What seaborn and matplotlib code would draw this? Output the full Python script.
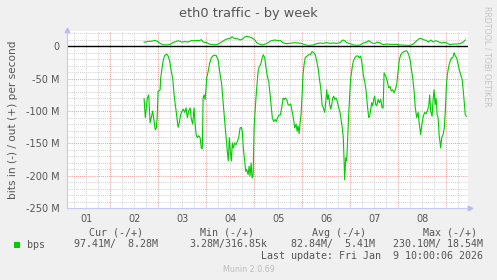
import numpy as np
import pandas as pd
import matplotlib
matplotlib.use("Agg")
import matplotlib.pyplot as plt
import seaborn as sns
from matplotlib.ticker import MultipleLocator, FuncFormatter
from matplotlib.patches import Rectangle

# ---- data (hours since 2026-01-01 00:00, values in Mbit/s) ----
in_hours = [40.9, 41.5, 42.5, 43.2, 43.9, 44.5, 45.2, 45.9, 46.5, 47.0, 47.4, 47.9, 48.4, 48.9,
            49.2, 49.9, 50.5, 51.2, 52.2, 52.9, 53.7, 54.5, 55.2, 55.9, 56.5, 57.2, 57.9, 58.5,
            59.2, 59.9, 60.5, 61.2, 61.9, 62.5, 63.2, 63.9, 64.5, 65.2, 65.9, 66.4, 66.9, 67.5,
            68.2, 68.9, 69.5, 70.0, 70.4, 70.9, 71.4, 71.9, 72.2, 72.9, 73.7, 74.5, 75.5, 76.9,
            77.9, 78.7,
            79.7, 80.5, 81.2, 81.9, 82.5, 83.0, 83.5, 84.0, 84.5, 85.0, 85.5, 86.2, 86.9, 87.5,
            88.2, 88.9, 89.5, 90.0, 90.5, 91.2, 91.7, 92.2, 92.9, 93.4, 93.9, 94.4, 94.9, 95.4,
            95.9, 96.5, 97.2, 97.9, 98.5, 99.2, 99.9, 100.5, 101.2, 101.9, 102.5, 103.2, 103.9,
            104.5, 105.0, 105.7, 106.4, 107.0, 107.7, 108.4, 109.0, 109.7, 110.4, 111.0, 111.5,
            112.2, 112.9, 113.5, 114.2, 114.9, 115.5, 116.2, 116.9, 117.4, 117.9, 118.4, 118.9,
            119.4, 119.9, 120.35,
            120.9, 121.5, 122.4, 123.2, 124.0, 124.9, 125.7, 126.5, 127.2, 127.9, 128.5, 129.2,
            129.9, 130.5, 131.2, 131.7, 132.2, 132.7, 133.2, 133.7, 134.2, 134.7, 135.2, 135.7,
            136.2, 136.9, 137.5, 138.2, 138.9, 139.5, 140.0, 140.5, 140.9, 141.2, 141.7, 142.2,
            142.7, 143.2, 143.7, 144.2, 144.9, 145.5, 146.2, 147.0, 147.9, 148.5, 149.2, 149.9,
            150.5, 151.2, 151.9, 152.5, 153.2, 153.7, 154.2, 154.7, 155.2, 155.7, 156.2, 156.7,
            157.2, 157.9, 158.5, 159.2, 159.9, 160.4,
            160.9, 161.7, 162.5, 163.2, 163.9, 164.5, 165.2, 165.9, 166.5, 167.2, 167.9, 168.5,
            169.2, 170.0, 170.9, 171.9, 172.5, 173.2, 173.9, 174.5, 175.2, 175.9, 176.5, 177.2,
            177.9, 178.5, 179.2, 179.9, 180.5, 181.2, 181.9, 182.5, 183.2, 183.7, 184.2, 184.9,
            185.4, 185.9, 186.4, 186.9, 187.4, 187.9, 188.4, 188.9, 189.2, 189.7, 190.4, 191.0,
            191.5, 192.0, 192.5, 193.2, 193.9, 194.5, 195.2, 195.9, 196.5, 197.2, 197.9, 198.5,
            199.2, 199.9, 200.5, 201.0, 201.5, 202.0]
in_mbps = [81, 110, 80, 75, 118, 110, 100, 116, 129, 126, 112, 69, 69, 67,
           49, 33, 21, 14, 12, 15, 23, 39, 49, 75, 90, 108, 125, 118,
           105, 100, 97, 102, 95, 110, 100, 95, 112, 120, 95, 120, 136, 141,
           138, 141, 157, 158, 80, 75, 82, 64, 49, 39, 26, 18, 14, 14,
           21, 39,
           59, 90, 116, 141, 162, 177, 141, 162, 177, 149, 157, 149, 152, 147,
           141, 126, 125, 131, 157, 177, 193, 190, 198, 185, 200, 180, 203, 198,
           126, 95, 64, 39, 31, 28, 18, 13, 18, 34, 46, 54, 75,
           95, 110, 116, 113, 116, 110, 106, 106, 95, 80, 82, 80,
           82, 90, 91, 89, 100, 110, 126, 120, 131, 123, 135, 118,
           105, 75, 44,
           28, 17, 15, 13, 13, 8, 10, 13, 23, 34, 49, 64,
           90, 95, 102, 87, 67, 82, 75, 90, 97, 90, 80, 77,
           82, 80, 85, 95, 102, 116, 126, 141, 177, 206, 172, 177,
           141, 105, 75, 49, 34, 23, 18, 15, 15, 18, 15, 28,
           44, 54, 69, 90, 110, 108, 97, 87, 92, 82, 77, 90,
           92, 82, 87, 82, 95, 95,
           41, 46, 54, 64, 62, 69, 67, 72, 67, 59, 39, 21,
           13, 10, 8, 7, 8, 13, 21, 34, 49, 69, 95, 110,
           102, 120, 136, 118, 108, 102, 104, 100, 92, 75, 100, 108,
           82, 67, 90, 80, 105, 110, 136, 149, 157, 141, 136, 126,
           100, 64, 44, 31, 23, 18, 18, 10, 15, 18, 28, 36,
           44, 51, 69, 87, 106, 108]

out_hours = [40.9, 41.9, 42.9, 44.5, 46.5, 47.5, 48.9, 50.2, 52.2, 53.9, 55.2, 57.2, 58.2,
             59.5, 61.2, 62.9, 64.5, 66.2, 67.5, 68.5, 69.5, 70.5, 72.2, 73.5, 75.5, 77.2,
             78.5, 80.2, 81.5, 82.9, 83.9, 84.9, 85.9, 87.5, 88.9, 90.2, 91.2, 92.2, 93.5,
             94.9, 96.2, 97.2, 98.5, 100.2, 101.5, 102.9, 104.5, 106.2, 107.9, 109.2, 110.2,
             111.9, 113.5, 114.9, 116.2, 117.9, 119.5, 121.2, 122.5,
             123.9, 125.5, 127.2, 128.9, 130.5, 132.2, 133.9, 135.5, 137.2, 138.9, 140.2,
             141.2, 142.2, 143.9, 145.5, 147.2, 148.9, 150.5, 152.2, 153.2, 154.2, 155.2,
             156.5, 157.5, 158.9, 160.5, 162.2, 163.9, 165.5, 167.2, 168.9, 170.5, 172.2,
             173.9, 175.5, 176.9, 178.2, 179.2, 180.5, 181.9, 183.2, 184.2, 185.5, 186.9,
             188.2, 189.5, 190.9, 192.2, 193.9, 195.5, 197.2, 198.9, 200.5, 201.5]
out_mbps = [6.6, 6.6, 7.7, 7.7, 9.2, 7.7, 4.6, 2.5, 2.0, 3.0, 5.6, 7.7, 8.7,
            6.6, 7.2, 6.6, 8.7, 8.7, 9.2, 8.7, 10.2, 6.6, 5.6, 3.5, 2.5, 2.5,
            4.6, 7.7, 10.2, 11.8, 12.3, 14.8, 12.3, 11.8, 9.7, 11.3, 14.4, 15.4, 14.4,
            12.8, 10.2, 5.6, 3.5, 2.0, 3.5, 5.6, 8.7, 9.7, 8.7, 8.7, 5.6,
            4.1, 4.6, 5.1, 5.6, 5.1, 4.6, 2.5, 1.5,
            1.5, 2.0, 4.1, 5.1, 4.6, 5.6, 4.6, 5.1, 4.6, 5.6, 9.7,
            8.7, 5.6, 4.1, 2.0, 1.5, 2.0, 5.1, 6.6, 8.7, 6.6, 4.6,
            4.6, 6.6, 5.1, 2.5, 3.5, 3.0, 3.0, 3.0, 2.0, 2.0, 1.5,
            1.5, 3.5, 7.7, 11.3, 12.3, 10.2, 9.2, 6.6, 9.7, 6.6, 8.7,
            6.6, 5.1, 6.1, 5.1, 2.5, 3.5, 3.5, 4.1, 6.6, 9.7]

day_labels = ["01", "02", "03", "04", "05", "06", "07", "08"]
legend_headers = ["Cur (-/+)", "Min (-/+)", "Avg (-/+)", "Max (-/+)"]
legend_values = ["97.41M/  8.28M", "3.28M/316.85k", "82.84M/  5.41M", "230.10M/ 18.54M"]
series_name = "bps"
title = "eth0 traffic - by week"
ylabel = "bits in (-) / out (+) per second"
last_update = "Last update: Fri Jan  9 10:00:06 2026"
footer = "Munin 2.0.69"
side_text = "RRDTOOL / TOBI OETIKER"

# ---- build frame ----
df = pd.concat([
    pd.DataFrame({"hours": in_hours, "value": -np.asarray(in_mbps, float), "dir": "in"}),
    pd.DataFrame({"hours": out_hours, "value": np.asarray(out_mbps, float), "dir": "out"}),
], ignore_index=True)

W, H = 497, 280
fig = plt.figure(figsize=(W / 100, H / 100), dpi=100, facecolor="#F0F0F0")
left, right, top, bottom = 67, 468, 31, 208.3
ax = fig.add_axes([left / W, 1 - bottom / H, (right - left) / W, (bottom - top) / H])
ax.set_facecolor("white")

GREEN = "#00CC00"
TXT = "#555555"

ax.axhline(0, color="black", lw=1.0, zorder=2)
sns.lineplot(data=df, x="hours", y="value", hue="dir", palette={"in": GREEN, "out": GREEN},
             estimator=None, sort=False, legend=False, linewidth=0.8, ax=ax, zorder=3)

ax.set_xlim(2.35, 202.85)
ax.set_ylim(-250, 23.6)

ax.xaxis.set_major_locator(MultipleLocator(24))
ax.xaxis.set_minor_locator(MultipleLocator(6))
ax.yaxis.set_major_locator(MultipleLocator(50))
ax.yaxis.set_minor_locator(MultipleLocator(10))

def xminor(v, pos):
    h = int(round(v))
    if h % 24 == 12:
        i = h // 24
        if 0 <= i < len(day_labels):
            return day_labels[i]
    return ""

ax.xaxis.set_major_formatter(FuncFormatter(lambda v, p: ""))
ax.xaxis.set_minor_formatter(FuncFormatter(xminor))
ax.yaxis.set_major_formatter(FuncFormatter(lambda v, p: "0" if abs(v) < 1e-9 else f"{int(round(v))} M"))

ax.grid(which="major", color="#F2A0A0", linestyle=(0, (1, 1)), lw=0.75)
ax.grid(which="minor", color="#D4D4D4", linestyle=(0, (1, 1)), lw=0.75)
ax.set_axisbelow(True)

ax.tick_params(which="both", length=0, colors=TXT, labelsize=7)
ax.tick_params(axis="y", pad=5.5)
ax.tick_params(axis="x", which="both", pad=4)
ax.set_xlabel("")
ax.set_ylabel("")

for s in ["top", "right"]:
    ax.spines[s].set_visible(False)
for s in ["left", "bottom"]:
    ax.spines[s].set_color("#C8C8F5")
    ax.spines[s].set_linewidth(0.8)
ax.plot([1.004], [0], marker=">", ms=3.2, color="#B8B8F0", transform=ax.transAxes, clip_on=False)
ax.plot([0], [1.008], marker="^", ms=3.2, color="#B8B8F0", transform=ax.transAxes, clip_on=False)

def fy(y):
    return 1 - y / H

fig.text(248.5 / W, fy(13.5), title, ha="center", va="center", fontsize=9.3, color=TXT)
fig.text(13 / W, fy(119.7), ylabel, ha="center", va="center", rotation=90, fontsize=7.6, color=TXT)
fig.text(487 / W, fy(56), side_text, ha="center", va="center", rotation=270, fontsize=5.7, color="#C4C4C4")

mono = "DejaVu Sans Mono"
head_x = [89, 200, 312, 423]
val_right = [158, 267, 375, 483]
for hx, t in zip(head_x, legend_headers):
    fig.text(hx / W, fy(232.7), t, ha="left", va="center", fontsize=7.2, family=mono, color=TXT)
for vx, t in zip(val_right, legend_values):
    fig.text(vx / W, fy(244.5), t, ha="right", va="center", fontsize=7.2, family=mono, color=TXT)
fig.patches.append(Rectangle((14 / W, fy(247.5)), 6 / W, 6 / H, transform=fig.transFigure,
                             facecolor=GREEN, edgecolor="none"))
fig.text(27 / W, fy(244.5), series_name, ha="left", va="center", fontsize=7.2, family=mono, color=TXT)
fig.text(483 / W, fy(256.2), last_update, ha="right", va="center", fontsize=7.2, family=mono, color=TXT)
fig.text(248.5 / W, fy(269.5), footer, ha="center", va="center", fontsize=5.75, color="#BDBDBD")

fig.savefig("out.png", dpi=100, facecolor=fig.get_facecolor())
